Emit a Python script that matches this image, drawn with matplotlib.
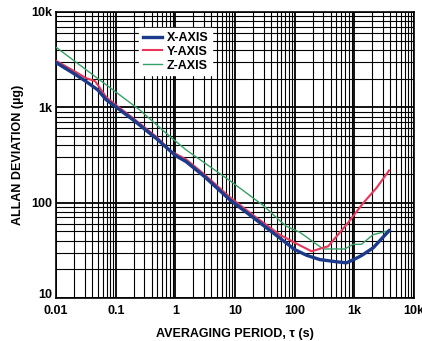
import matplotlib
matplotlib.use("Agg")
import matplotlib.pyplot as plt
from matplotlib.ticker import LogLocator, FixedLocator, NullFormatter

plt.rcParams['font.family'] = ['Liberation Sans', 'DejaVu Sans']
plt.rcParams['font.weight'] = 'bold'

# averaging period (s) and Allan deviation (ug)
x_tau = [0.01, 0.02, 0.032, 0.05, 0.069, 0.1, 0.2, 0.5, 1, 1.5, 3, 8.2, 20,
         56, 100, 160, 264, 500, 740, 1000, 1320, 2070, 3830]
x_dev = [2940, 2250, 1860, 1520, 1200, 1010, 730, 460, 312, 270, 190, 107, 70,
         42.7, 32.2, 28, 25.3, 24, 23.4, 25.5, 27.9, 33.6, 50.9]

y_tau = [0.01, 0.02, 0.032, 0.045, 0.069, 0.1, 0.2, 0.5, 0.81, 1.5, 3, 8.2, 20,
         56, 100, 192, 364, 740, 1406, 2355, 3830]
y_dev = [3070, 2400, 2020, 1880, 1280, 1060, 760, 480, 350, 285, 200, 114, 74,
         46.2, 38, 30.9, 34.9, 58.9, 99, 143, 218]

z_tau = [0.01, 0.25, 0.81, 1.5, 8.2, 30, 56, 73, 122, 300, 693, 955, 1318, 2065, 3830]
z_dev = [4260, 942, 494, 359, 170, 93, 64.9, 56.5, 48.9, 32.7, 32.7, 36.6, 36.6, 46.2, 50.9]

x_ticks = [0.01, 0.1, 1, 10, 100, 1000, 10000]
x_labels = ['0.01', '0.1', '1', '10', '100', '1k', '10k']
y_ticks = [10, 100, 1000, 10000]
y_labels = ['10', '100', '1k', '10k']

fig = plt.figure(figsize=(4.22, 3.41), dpi=100)
ax = fig.add_axes([0.133, 0.126, 0.848, 0.839])

ax.plot(x_tau, x_dev, color='#1b3a8a', lw=2.4, label='X-AXIS', zorder=5)
ax.plot(y_tau, y_dev, color='#e8365a', lw=1.5, label='Y-AXIS', zorder=4)
ax.plot(z_tau, z_dev, color='#35a067', lw=1.0, label='Z-AXIS', zorder=3)

ax.set_xscale('log')
ax.set_yscale('log')
ax.set_xlim(0.01, 10000)
ax.set_ylim(10, 10000)

ax.xaxis.set_major_locator(FixedLocator(x_ticks))
ax.set_xticklabels(x_labels)
ax.yaxis.set_major_locator(FixedLocator(y_ticks))
ax.set_yticklabels(y_labels)
ax.xaxis.set_minor_locator(LogLocator(base=10, subs=range(2, 10), numticks=20))
ax.yaxis.set_minor_locator(LogLocator(base=10, subs=range(2, 10), numticks=20))
ax.xaxis.set_minor_formatter(NullFormatter())
ax.yaxis.set_minor_formatter(NullFormatter())

ax.grid(True, which='major', color='black', lw=1.3)
ax.grid(True, which='minor', color='black', lw=0.8)
ax.tick_params(which='both', length=0, labelsize=9)
ax.tick_params(axis='x', pad=5)
ax.tick_params(axis='y', pad=3)
for sp in ax.spines.values():
    sp.set_linewidth(1.2)
# sit the bottom y label on its grid line so it clears the x labels
ax.get_yticklabels()[0].set_verticalalignment('baseline')

ax.set_xlabel('AVERAGING PERIOD, τ (s)', fontsize=9, fontweight='bold', labelpad=8)
ax.set_ylabel('ALLAN DEVIATION (µg)', fontsize=9, fontweight='bold', labelpad=5)

leg = ax.legend(loc='upper left', bbox_to_anchor=(0.215, 0.965), frameon=True,
                fontsize=9, handlelength=1.5, borderpad=0.3, labelspacing=0.15,
                handletextpad=0.4, fancybox=False)
leg.get_frame().set_edgecolor('white')
leg.get_frame().set_alpha(1)
for t in leg.get_texts():
    t.set_fontweight('bold')

fig.savefig('out.png', dpi=100)
